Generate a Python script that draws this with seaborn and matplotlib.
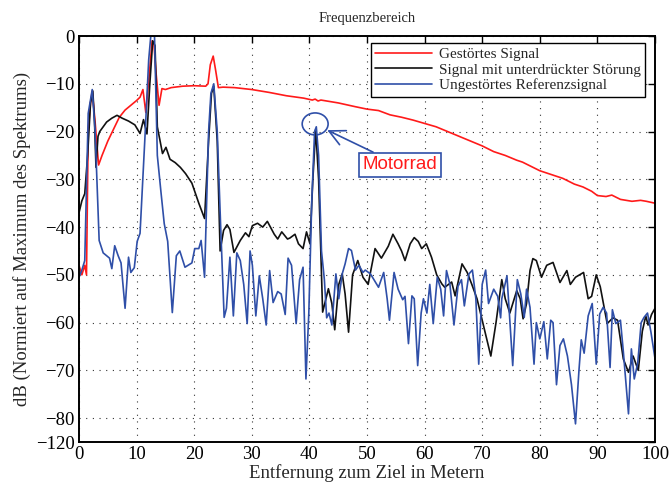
import matplotlib
matplotlib.use("Agg")
import matplotlib.pyplot as plt
import seaborn as sns
import pandas as pd
from matplotlib.patches import Ellipse

# Gestörtes Signal
red_x = [0, 0.5, 1.0, 1.3, 1.6, 2.0, 2.3, 2.8, 3.4, 4.0, 5.0, 6.0, 7.0, 8.0, 9.0, 10.0,
         10.6, 11.1, 11.6, 12.2, 12.7, 13.0, 13.4, 13.9, 14.4, 15.0, 16.0, 18.0, 20.0,
         22.0, 22.4, 22.8, 23.3, 23.7, 24.2, 25.0, 27.0, 30.0, 33.0, 36.0, 39.0, 40.5,
         41.0, 41.5, 42.0, 45.0, 48.0, 50.0, 52.0, 54.0, 56.0, 58.0, 60.0, 62.0, 64.0,
         66.0, 68.0, 70.0, 72.0, 74.0, 76.0, 77.0, 78.0, 80.0, 82.0, 84.0, 86.0, 87.5,
         89.0, 90.0, 91.5, 92.5, 94.0, 96.0, 97.5, 98.5, 100]
red_db = [-48, -50, -48, -50, -20, -14, -11.5, -18, -27, -25, -22, -19.5, -17, -15.5, -14.5,
          -13.5, -12.8, -11.2, -16, -8, -1, -1.5, -8, -14.5, -11, -11.2, -10.8, -10.5,
          -10.4, -10.5, -10, -6, -4.2, -7, -10.8, -10.7, -10.8, -11.2, -11.8, -12.5, -13,
          -13.4, -13.2, -13.6, -13.4, -14, -14.8, -15.3, -15.6, -16.5, -17, -17.6, -18.3,
          -19, -20, -21, -22, -23, -24.2, -25, -26, -26.4, -27, -28.2, -29, -29.8, -31,
          -31.6, -32.5, -33.4, -33.6, -33.3, -34.2, -34.6, -34.4, -34.6, -35]

# Signal mit unterdrückter Störung
black_x = [0, 0.5, 1.0, 1.5, 2.0, 2.4, 2.7, 2.95, 3.3, 3.6, 4.2, 4.8, 5.7, 6.6, 7.5, 8.6,
           9.7, 10.6, 11.2, 11.8, 12.3, 12.8, 13.2, 13.6, 14.5, 15.1, 15.8, 16.7, 17.6,
           18.5, 19.6, 20.8, 21.8, 22.5, 23.0, 23.4, 24.0, 24.5, 25.1, 25.7, 26.2, 26.9,
           28.0, 28.9, 29.5, 30.1, 31.0, 31.9, 32.7, 33.9, 34.5, 35.2, 36.2, 36.6, 37.5,
           38.1, 38.9, 39.5, 40.1, 40.6, 41.1, 41.6, 42.3, 43.3, 43.9, 44.4, 45.1, 45.7,
           46.2, 46.8, 47.5, 48.4, 49.3, 50.2, 51.4, 52.5, 53.7, 54.5, 55.4, 56.0, 56.6,
           57.5, 58.2, 58.9, 59.5, 60.3, 61.2, 62.1, 63.0, 63.5, 64.7, 65.3, 66.5, 67.4,
           68.2, 69.1, 70.3, 70.9, 71.5, 72.4, 73.4, 74.0, 74.8, 76.0, 76.6, 77.1, 77.7,
           78.3, 78.8, 79.4, 80.3, 81.2, 82.3, 83.5, 84.7, 85.3, 86.2, 87.6, 88.4, 89.0,
           89.8, 90.5, 91.7, 92.7, 93.5, 94.5, 95.4, 96.2, 97.1, 97.8, 98.4, 98.8, 99.4, 100]
black_db = [-37, -34.5, -33, -25, -14, -11.5, -18, -27.5, -21, -20, -19, -18, -17.2, -16.6,
            -17.2, -17.8, -18.6, -20.4, -17.5, -20.5, -10, -1, -2, -19, -24.6, -23.3, -25.8,
            -26.5, -27.5, -28.8, -30.8, -35, -38.2, -22, -12, -10.5, -22, -45, -40.7, -39.5,
            -40.5, -45.3, -42.8, -41.2, -42, -39.7, -39.2, -40, -38.8, -41.5, -42.5, -41,
            -42.5, -42.3, -41.5, -43.5, -44.5, -41, -43.5, -30, -19.5, -30, -57.8, -52.9,
            -56, -61.5, -52, -49.8, -54, -62, -50, -47, -50.5, -52, -44.5, -46.5, -44, -41.5,
            -43.5, -45, -47, -43.5, -42.2, -43, -44.5, -43.5, -46.3, -50, -51.9, -52.6, -51.5,
            -54.4, -47.7, -49.5, -52, -55, -61, -64, -67, -60, -51, -55, -58, -53.3, -55,
            -59.2, -56, -49.1, -46.6, -47, -50.5, -48, -47.4, -51.6, -49.1, -52, -50.5, -49.5,
            -55, -54.5, -50, -52.5, -60.2, -59, -59.5, -67.6, -70.4, -67, -70, -61.8, -58.6,
            -60.5, -58.3, -57]

# Ungestörtes Referenzsignal
blue_x = [0, 0.5, 1.0, 1.6, 2.3, 2.8, 3.5, 4.2, 4.8, 5.3, 5.7, 6.2, 6.8, 7.3, 8.0, 8.6, 9.0,
          9.6, 10.1, 10.6, 11.5, 12.1, 12.5, 13.1, 13.6, 14.2, 14.8, 15.4, 16.2, 16.9, 17.5,
          18.4, 19.6, 20.1, 20.8, 21.2, 21.8, 22.5, 22.9, 23.4, 24.0, 24.6, 25.2, 25.6, 26.2,
          26.8, 27.4, 28.0, 28.6, 29.2, 29.7, 30.1, 30.7, 31.3, 31.9, 32.5, 33.1, 33.7, 34.5,
          35.1, 35.8, 36.3, 36.9, 37.7, 38.3, 38.9, 39.4, 39.9, 40.4, 40.9, 41.2, 41.6, 42.1,
          42.6, 43.0, 43.4, 43.9, 44.6, 45.1, 45.7, 46.2, 46.8, 47.3, 48.0, 48.6, 49.3, 49.7,
          50.6, 51.2, 52.0, 52.9, 53.5, 53.9, 54.7, 55.4, 56.2, 56.6, 57.2, 57.8, 58.2, 58.8,
          59.4, 59.8, 60.4, 60.9, 61.5, 62.2, 62.8, 63.3, 63.8, 64.4, 65.1, 65.8, 66.4, 66.9,
          67.7, 68.3, 68.9, 69.4, 70.0, 70.6, 71.1, 72.0, 72.7, 73.2, 73.4, 74.3, 75.3, 76.1,
          76.7, 77.3, 77.7, 78.3, 79.0, 79.4, 80.0, 80.7, 81.3, 81.9, 82.3, 82.9, 83.5, 84.1,
          84.8, 85.5, 86.2, 86.8, 87.2, 87.7, 88.4, 89.1, 89.8, 90.4, 91.0, 91.6, 92.2, 92.6,
          93.2, 94.0, 94.5, 95.4, 95.9, 96.4, 97.0, 97.6, 98.1, 98.7, 99.3, 100]
blue_db = [-50.5, -49, -47, -16.2, -11.2, -20, -42.8, -45.4, -46, -46.5, -48.7, -43.9, -46,
           -47.5, -57, -46.3, -49.5, -48.5, -43, -41.3, -20, -5, 0.5, 0.5, -25, -32.3, -39.3,
           -43, -57.9, -46, -45, -48.4, -47.5, -44.5, -44.5, -42.8, -50.5, -20, -12, -10, -20,
           -40, -58.9, -57, -46.3, -58.6, -45.4, -47, -52, -60.2, -45, -48, -58.6, -50.2, -55,
           -60.5, -49.1, -55.8, -53.5, -54, -58.3, -46.5, -48, -60.2, -51, -48.4, -71.8, -58,
           -35, -20, -19, -25, -45, -51, -59, -58, -60.5, -49.8, -55, -49.8, -47.7, -44.5,
           -44.9, -49, -48, -49.5, -49, -49.8, -51, -52.6, -49.5, -55, -59.5, -49.5, -53,
           -55.2, -54.5, -64.4, -54.4, -55, -69, -58, -55, -58, -52, -60.2, -50.5, -53, -58.6,
           -49.1, -52, -60.5, -52.4, -51, -56.5, -49.8, -49, -55, -68.7, -52, -49, -56, -53,
           -54.5, -59, -55, -50.2, -69, -51, -54, -58.9, -53, -56.8, -68.7, -60, -63.4, -59.8,
           -67.6, -59.5, -60, -73, -64.8, -63.4, -67, -73, -81.2, -70, -63.6, -66.4, -58.6,
           -56, -68.7, -58.2, -56.8, -58, -69.4, -57.3, -60.2, -59.5, -66, -79.1, -65.5, -71.8,
           -68.5, -60, -58.9, -58, -62, -67.5]

x_ticks = [0, 10, 20, 30, 40, 50, 60, 70, 80, 90, 100]
y_ticks = [0, -10, -20, -30, -40, -50, -60, -70, -80, -85]
y_tick_labels = ["0", "\u221210", "\u221220", "\u221230", "\u221240", "\u221250",
                 "\u221260", "\u221270", "\u221280", "\u2212120"]

sns.set_style("white")
plt.rcParams["font.family"] = ["Liberation Serif", "DejaVu Serif"]
plt.rcParams["axes.unicode_minus"] = True

fig = plt.figure(figsize=(6.7, 4.93), dpi=100)
ax = fig.add_axes([0.1179, 0.1034, 0.8597, 0.8235])

red_df = pd.DataFrame({"x": red_x, "db": red_db})
black_df = pd.DataFrame({"x": black_x, "db": black_db})
blue_df = pd.DataFrame({"x": blue_x, "db": blue_db})

sns.lineplot(data=red_df, x="x", y="db", ax=ax, color="#ff1a1a", linewidth=1.2,
             label="Gestörtes Signal", sort=False)
sns.lineplot(data=black_df, x="x", y="db", ax=ax, color="#111111", linewidth=1.2,
             label="Signal mit unterdrückter Störung", sort=False)
sns.lineplot(data=blue_df, x="x", y="db", ax=ax, color="#2f4fa8", linewidth=1.2,
             label="Ungestörtes Referenzsignal", sort=False)

ax.set_xlim(0, 100)
ax.set_ylim(-85, 0)
ax.set_xticks(x_ticks)
ax.set_xticklabels([str(t) for t in x_ticks])
ax.set_yticks(y_ticks)
ax.set_yticklabels(y_tick_labels)
ax.tick_params(direction="in", length=5, width=1, labelsize=13.5, colors="black",
               top=True, right=True, pad=3)

ax.grid(True, linestyle=(0, (1, 5)), linewidth=0.8, color="#333333")
for s in ax.spines.values():
    s.set_linewidth(1.4)
    s.set_color("black")

ax.set_xlabel("Entfernung zum Ziel in Metern", fontsize=13.5, labelpad=1)
ax.set_ylabel("dB (Normiert auf Maximum des Spektrums)", fontsize=13.5, labelpad=4)
ax.set_title("Frequenzbereich", fontsize=10.5, pad=10)

leg = ax.legend(loc="upper right", bbox_to_anchor=(0.9826, 0.9828), borderaxespad=0,
                fontsize=11, handlelength=3.7, handletextpad=0.45, labelspacing=0.12,
                fancybox=False, framealpha=1, edgecolor="black", borderpad=0.3)
leg.get_frame().set_linewidth(1.0)

# Motorrad-Markierung
ax.add_patch(Ellipse((41.0, -18.4), 4.5, 4.6, fill=False, edgecolor="#2f4fa8", linewidth=1.2))
ax.annotate("Motorrad", xy=(43.1, -19.7), xytext=(55.7, -27.0), ha="center", va="center",
            fontsize=13.5, color="#ff1a1a", family=["Liberation Sans", "DejaVu Sans"],
            bbox=dict(boxstyle="square,pad=0.2", fc="white", ec="#2f4fa8", lw=1.2),
            arrowprops=dict(arrowstyle="->,head_length=0.7,head_width=0.35", color="#2f4fa8",
                            lw=1.2, shrinkA=0, shrinkB=0, mutation_scale=16))

fig.savefig("out.png", dpi=100)
